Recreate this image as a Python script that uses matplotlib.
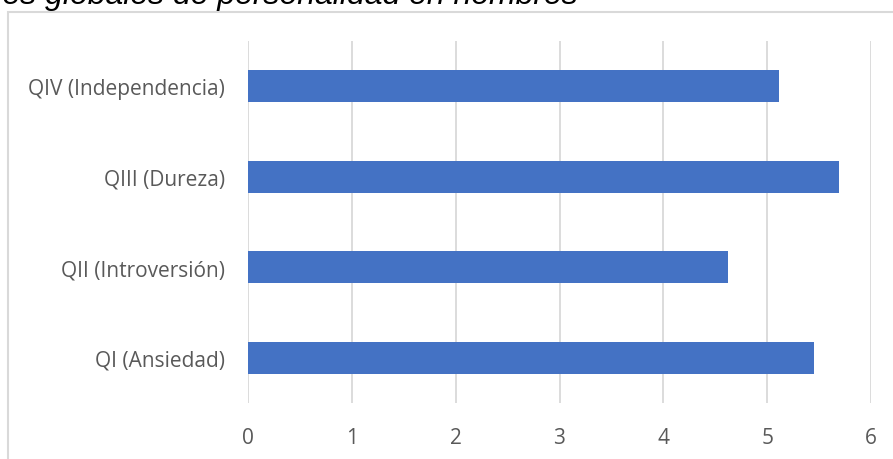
import matplotlib
matplotlib.use("Agg")
import matplotlib.pyplot as plt
import matplotlib.patches as mp

categories = ['QI (Ansiedad)', 'QII (Introversión)', 'QIII (Dureza)', 'QIV (Independencia)']
values = [5.45, 4.62, 5.69, 5.11]
xticks = [0, 1, 2, 3, 4, 5, 6]
title = 'Factores globales de personalidad en hombres'

fig = plt.figure(figsize=(8.93, 4.6), dpi=100)

# light grey frame around the chart area, running off the right and bottom
frame = mp.Rectangle((8 / 893, -0.1), 1.2, 1 - 13 / 460 + 0.1, transform=fig.transFigure,
                     fill=False, edgecolor='#d9d9d9', linewidth=1.5)
fig.patches.append(frame)

# caption text, partly cut off at the top
fig.text(578 / 893, 1 - 4 / 460, title, ha='right', va='baseline',
         fontsize=23, style='italic', family='Liberation Sans', color='black')

ax = fig.add_axes([248 / 893, 1 - 404 / 460, (871 - 248) / 893, (404 - 42) / 460])
ax.barh(range(len(categories)), values, height=0.35, color='#4472C4', zorder=3)
ax.set_xlim(0, 6)
ax.set_ylim(-0.5, len(categories) - 0.5)
ax.set_xticks(xticks)
ax.set_xticklabels([str(t) for t in xticks])
ax.set_yticks(range(len(categories)))
ax.set_yticklabels(categories)
ax.grid(axis='x', color='#d9d9d9', linewidth=1.3, zorder=0)
ax.tick_params(axis='both', length=0, labelcolor='#595959', labelsize=15)
ax.tick_params(axis='x', pad=17)
ax.tick_params(axis='y', pad=16.5)
for lab in ax.get_xticklabels() + ax.get_yticklabels():
    lab.set_family('Open Sans')
for s in ax.spines.values():
    s.set_visible(False)

fig.savefig('out.png', dpi=100)
